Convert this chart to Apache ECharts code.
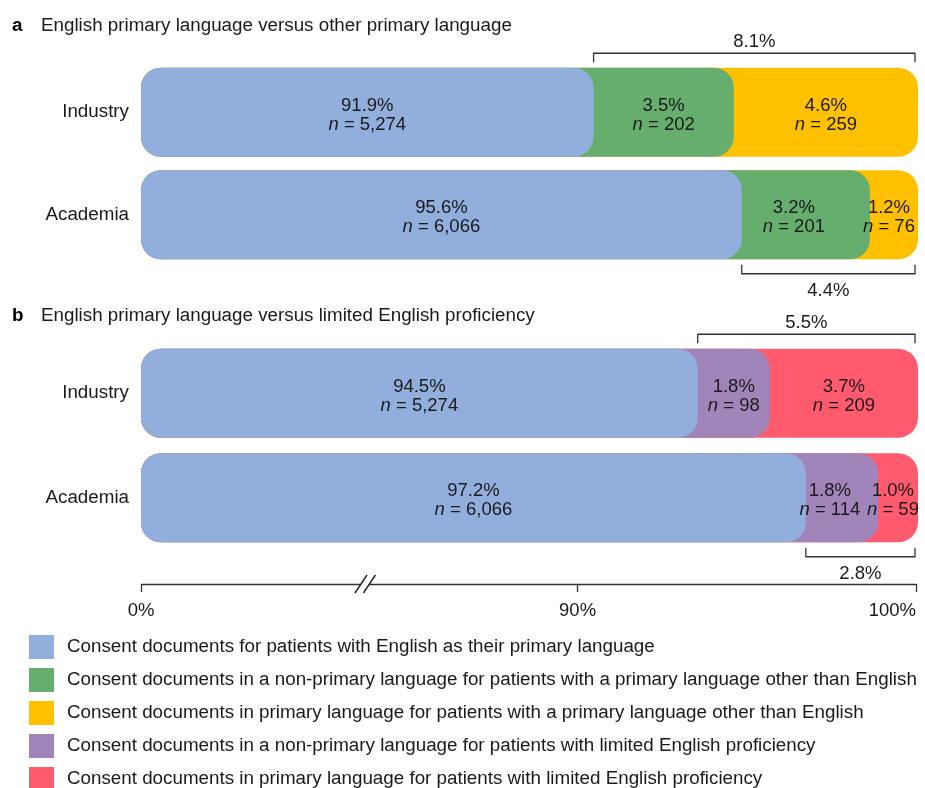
<!DOCTYPE html>
<html>
<head>
<meta charset="utf-8">
<script src="https://cdn.jsdelivr.net/npm/echarts@6/dist/echarts.min.js"></script>
<style>
html,body{margin:0;padding:0;background:#fff;}
#chart{width:925px;height:788px;}
</style>
</head>
<body>
<div id="chart"></div>
<script>
// ---------- data ----------
const categories = ['Industry', 'Academia'];
// Panel a: English primary language versus other primary language
const englishPctA = [91.9, 95.6];
const englishNA = [5274, 6066];
const otherNonPrimaryPct = [3.5, 3.2];
const otherNonPrimaryN = [202, 201];
const otherPrimaryPct = [4.6, 1.2];
const otherPrimaryN = [259, 76];
// Panel b: English primary language versus limited English proficiency
const englishPctB = [94.5, 97.2];
const englishNB = [5274, 6066];
const lepNonPrimaryPct = [1.8, 1.8];
const lepNonPrimaryN = [98, 114];
const lepPrimaryPct = [3.7, 1.0];
const lepPrimaryN = [209, 59];
// axis tick values and the axis break (0% ... 90% is compressed)
const axisTickValues = [0, 90, 100];
const axisBreak = [6.5, 83.85];

const seriesNames = [
  'Consent documents for patients with English as their primary language',
  'Consent documents in a non-primary language for patients with a primary language other than English',
  'Consent documents in primary language for patients with a primary language other than English',
  'Consent documents in a non-primary language for patients with limited English proficiency',
  'Consent documents in primary language for patients with limited English proficiency'
];
const colors = ['#92AEDC', '#66AE6E', '#FFC000', '#A084BA', '#FF5A6E'];

// ---------- helpers ----------
const FONT = "'Liberation Sans', Arial, Helvetica, sans-serif";
const TXT = '#1a1a1a';
const FS = 18.8;
const FSL = 18.5;
const BAR_W = 89;
const RADIUS = 20;

function cum(...arrs) {
  return arrs[0].map((_, i) => arrs.reduce((s, a) => s + a[i], 0));
}
function fmtN(n) { return n.toLocaleString('en-US'); }

function visibleBar(name, data, color, xi, z) {
  return {
    type: 'bar', name, data, xAxisIndex: xi, yAxisIndex: xi, color,
    barWidth: BAR_W, barGap: '-100%', z,
    itemStyle: { color, borderRadius: RADIUS },
    emphasis: { disabled: true }, silent: true
  };
}
// segs: the three segment arrays of a panel; k: which segment this label series is
function labelBar(segs, ns, xi, stack, k) {
  const pcts = segs[k];
  const data = pcts.map((v, i) => {
    // nudge labels of narrow right-hand segments to keep them apart
    let dx = 0;
    if (k === 2 && v < 1.5) dx = -5;
    if (k === 1 && segs[2][i] < 1.5) dx = -12;
    return { value: v, label: { offset: [dx, 3] } };
  });
  return {
    type: 'bar', name: stack + k, data, xAxisIndex: xi, yAxisIndex: xi,
    stack, barWidth: BAR_W, barGap: '-100%', z: 10, silent: true,
    itemStyle: { color: 'rgba(0,0,0,0)' },
    emphasis: { disabled: true },
    label: {
      show: true, position: 'inside', color: TXT, fontFamily: FONT, fontSize: FSL, lineHeight: 19,
      formatter: p => p.value.toFixed(1) + '%\n{i|n} = ' + fmtN(ns[p.dataIndex]),
      rich: { i: { fontStyle: 'italic', fontSize: FSL, fontFamily: FONT, color: TXT, lineHeight: 19 } }
    }
  };
}
function bracketSeries(startVals, segs, xi) {
  const data = categories.map((c, i) => [i, startVals[i], 100, segs.reduce((s, a) => s + a[i], 0)]);
  return {
    type: 'custom', xAxisIndex: xi, yAxisIndex: xi, clip: false, silent: true, z: 20,
    encode: { x: [1, 2], y: 0 },
    data,
    renderItem: (params, api) => {
      const cat = api.value(0);
      const p1 = api.coord([api.value(1), cat]);
      const p2 = api.coord([api.value(2), cat]);
      const dir = cat === 0 ? -1 : 1;
      const yLine = p1[1] + dir * 59;
      const yTick = p1[1] + dir * 50;
      const x1 = p1[0], x2 = p2[0] - 3;
      return {
        type: 'group', children: [
          { type: 'polyline', shape: { points: [[x1, yTick], [x1, yLine], [x2, yLine], [x2, yTick]] },
            style: { stroke: '#333', fill: null, lineWidth: 1.3 } },
          { type: 'text', style: { text: api.value(3).toFixed(1) + '%', x: (x1 + x2) / 2, y: p1[1] + (dir < 0 ? -70 : 76),
            align: 'center', verticalAlign: 'middle', fontSize: FSL, fontFamily: FONT, fill: TXT } }
        ]
      };
    }
  };
}

const barXAxis = (gi) => ({
  gridIndex: gi, type: 'value', min: 0, max: 100, show: false,
  breaks: [{ start: 0.2, end: 80.9, gap: 0.1 }],
  breakArea: { show: false }
});
const catYAxis = (gi) => ({
  gridIndex: gi, type: 'category', data: categories, inverse: true,
  axisLine: { show: false }, axisTick: { show: false },
  axisLabel: { color: TXT, fontSize: FS, fontFamily: FONT, margin: 12 }
});

const segsA = [englishPctA, otherNonPrimaryPct, otherPrimaryPct];
const segsB = [englishPctB, lepNonPrimaryPct, lepPrimaryPct];

const option = {
  animation: false,
  textStyle: { fontFamily: FONT },
  title: [
    { text: 'a', left: 12, top: 16, padding: 0, textStyle: { fontSize: FS, fontWeight: 'bold', color: '#000', fontFamily: FONT } },
    { text: 'English primary language versus other primary language', left: 41, top: 16, padding: 0, textStyle: { fontSize: FS, fontWeight: 'normal', color: TXT, fontFamily: FONT } },
    { text: 'b', left: 12, top: 306, padding: 0, textStyle: { fontSize: FS, fontWeight: 'bold', color: '#000', fontFamily: FONT } },
    { text: 'English primary language versus limited English proficiency', left: 41, top: 306, padding: 0, textStyle: { fontSize: FS, fontWeight: 'normal', color: TXT, fontFamily: FONT } }
  ],
  legend: {
    orient: 'vertical', left: 29, top: 635, height: 200, padding: 0,
    itemWidth: 25, itemHeight: 24, itemGap: 9,
    icon: 'rect', selectedMode: false,
    data: seriesNames,
    textStyle: { fontSize: FS, color: TXT, fontFamily: FONT, padding: [0, 0, 0, 8] }
  },
  grid: [
    { left: 141, right: 7, top: 61, height: 205 },
    { left: 141, right: 7, top: 341, height: 209 },
    { left: 141, right: 9, top: 574, height: 20 }
  ],
  xAxis: [
    barXAxis(0),
    barXAxis(1),
    {
      gridIndex: 2, type: 'value', min: 0, max: 100,
      breaks: [{ start: axisBreak[0], end: axisBreak[1], gap: 0.25 }],
      breakArea: { show: false, expandOnClick: false },
      axisLine: { onZero: true, lineStyle: { color: '#333', width: 1.3 } },
      axisTick: { show: true, customValues: axisTickValues, length: 8, lineStyle: { color: '#333', width: 1.3 } },
      axisLabel: { customValues: axisTickValues, formatter: '{value}%', color: TXT, fontSize: FSL, fontFamily: FONT, margin: 7, alignMaxLabel: 'right' },
      splitLine: { show: false }
    }
  ],
  yAxis: [
    catYAxis(0),
    catYAxis(1),
    { gridIndex: 2, type: 'value', min: -1, max: 1, show: false }
  ],
  series: [
    // panel a
    visibleBar(seriesNames[2], cum(englishPctA, otherNonPrimaryPct, otherPrimaryPct), colors[2], 0, 2),
    visibleBar(seriesNames[1], cum(englishPctA, otherNonPrimaryPct), colors[1], 0, 3),
    visibleBar(seriesNames[0], englishPctA, colors[0], 0, 4),
    labelBar(segsA, englishNA, 0, 'lblA', 0),
    labelBar(segsA, otherNonPrimaryN, 0, 'lblA', 1),
    labelBar(segsA, otherPrimaryN, 0, 'lblA', 2),
    bracketSeries(englishPctA, [otherNonPrimaryPct, otherPrimaryPct], 0),
    // panel b
    visibleBar(seriesNames[4], cum(englishPctB, lepNonPrimaryPct, lepPrimaryPct), colors[4], 1, 2),
    visibleBar(seriesNames[3], cum(englishPctB, lepNonPrimaryPct), colors[3], 1, 3),
    visibleBar(seriesNames[0], englishPctB, colors[0], 1, 4),
    labelBar(segsB, englishNB, 1, 'lblB', 0),
    labelBar(segsB, lepNonPrimaryN, 1, 'lblB', 1),
    labelBar(segsB, lepPrimaryN, 1, 'lblB', 2),
    bracketSeries(englishPctB, [lepNonPrimaryPct, lepPrimaryPct], 1),
    // axis break marker "//" drawn at the break ends on the shared axis
    {
      type: 'custom', xAxisIndex: 2, yAxisIndex: 2, clip: false, silent: true, z: 30,
      encode: { x: [0, 1] },
      data: [[axisBreak[0], axisBreak[1]]],
      renderItem: (params, api) => {
        const a = api.coord([api.value(0), 0]);
        const b = api.coord([api.value(1), 0]);
        const dx = 6, dy = 9, y = a[1];
        return {
          type: 'group', children: [
            { type: 'polygon', shape: { points: [[a[0] - dx, y + dy], [a[0] + dx, y - dy], [b[0] + dx, y - dy], [b[0] - dx, y + dy]] },
              style: { fill: '#fff', stroke: null } },
            { type: 'line', shape: { x1: a[0] - dx, y1: y + dy, x2: a[0] + dx, y2: y - dy }, style: { stroke: '#222', lineWidth: 1.4 } },
            { type: 'line', shape: { x1: b[0] - dx, y1: y + dy, x2: b[0] + dx, y2: y - dy }, style: { stroke: '#222', lineWidth: 1.4 } }
          ]
        };
      }
    }
  ]
};

const chart = echarts.init(document.getElementById('chart'), null, { renderer: 'canvas' });
chart.setOption(option);
</script>
</body>
</html>
